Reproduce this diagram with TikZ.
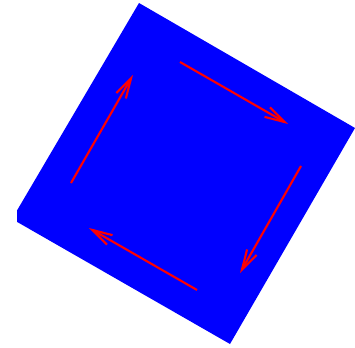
\documentclass[tikz,border=0pt]{standalone}
\usetikzlibrary{arrows.meta}
\begin{document}
\begin{tikzpicture}[x=1pt,y=-1pt,
  flow/.style={draw=red, line width=2.1pt, -{Straight Barb[length=20pt,width=11pt]}}]
\useasboundingbox (0,0) rectangle (355,347);
\begin{scope}
  \clip (17,0) rectangle (355,347);
  \fill[blue] (139,3) -- (355,128) -- (230,344) -- (12,219) -- cycle;
\end{scope}
\coordinate (a1s) at (71,183);  \coordinate (a1e) at (133,75);
\coordinate (a2s) at (180,62);  \coordinate (a2e) at (288,124);
\coordinate (a3s) at (301,166); \coordinate (a3e) at (240,273);
\coordinate (a4s) at (197,290); \coordinate (a4e) at (89,228);
\draw[flow] (a1s) -- (a1e);
\draw[flow] (a2s) -- (a2e);
\draw[flow] (a3s) -- (a3e);
\draw[flow] (a4s) -- (a4e);
\end{tikzpicture}
\end{document}
